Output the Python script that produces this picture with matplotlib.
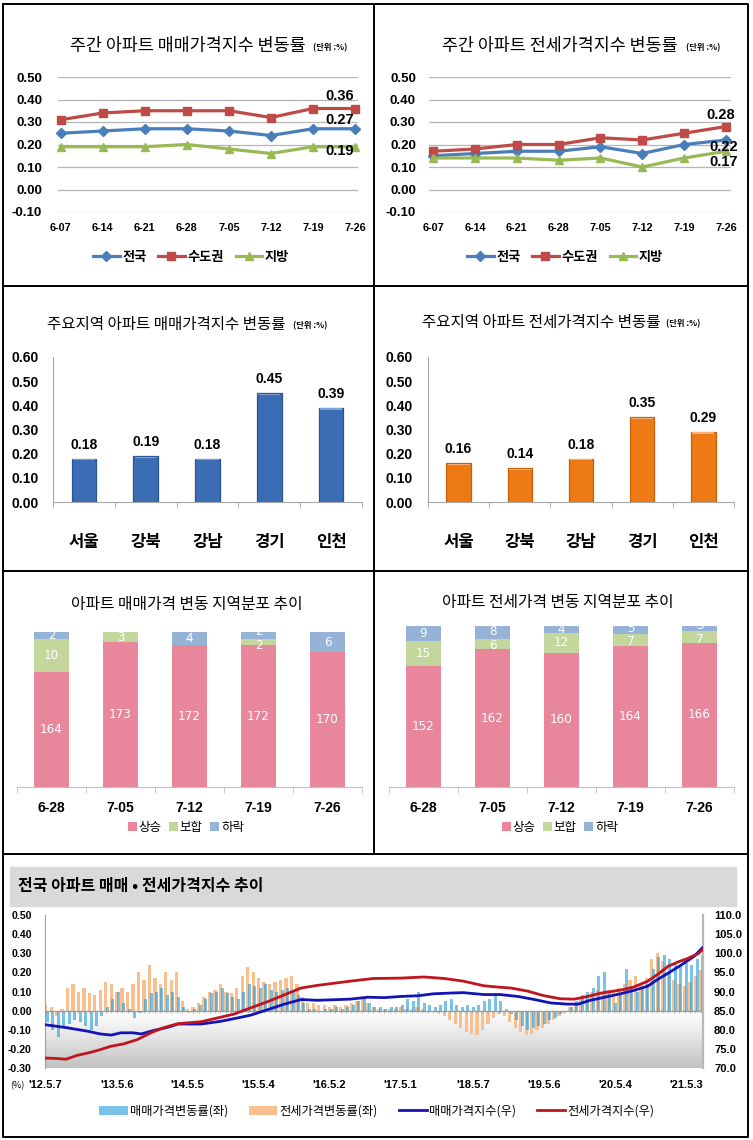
import numpy as np
import matplotlib
matplotlib.use('Agg')
import matplotlib.pyplot as plt
from matplotlib.colors import LinearSegmentedColormap
from matplotlib.patches import Rectangle

# ---------------- data ----------------
week_labels = ['6-07', '6-14', '6-21', '6-28', '7-05', '7-12', '7-19', '7-26']
line_names = ['전국', '수도권', '지방']
sale_nat = [0.25, 0.26, 0.27, 0.27, 0.26, 0.24, 0.27, 0.27]
sale_cap = [0.31, 0.34, 0.35, 0.35, 0.35, 0.32, 0.36, 0.36]
sale_reg = [0.19, 0.19, 0.19, 0.20, 0.18, 0.16, 0.19, 0.19]
jeon_nat = [0.15, 0.16, 0.17, 0.17, 0.19, 0.16, 0.20, 0.22]
jeon_cap = [0.17, 0.18, 0.20, 0.20, 0.23, 0.22, 0.25, 0.28]
jeon_reg = [0.14, 0.14, 0.14, 0.13, 0.14, 0.10, 0.14, 0.17]

regions = ['서울', '강북', '강남', '경기', '인천']
region_sale = [0.18, 0.19, 0.18, 0.45, 0.39]
region_jeon = [0.16, 0.14, 0.18, 0.35, 0.29]

dist_weeks = ['6-28', '7-05', '7-12', '7-19', '7-26']
dist_names = ['상승', '보합', '하락']
sale_up = [164, 173, 172, 172, 170]
sale_flat = [10, 3, 0, 2, 0]
sale_down = [2, 0, 4, 2, 6]
jeon_up = [152, 162, 160, 164, 166]
jeon_flat = [15, 6, 12, 7, 7]
jeon_down = [9, 8, 4, 5, 3]

# long-run chart (weeks since 2012-05-07)
long_tick_weeks = [0, 52, 104, 156, 208, 260, 313, 365, 417, 469]
long_tick_labels = ["'12.5.7", "'13.5.6", "'14.5.5", "'15.5.4", "'16.5.2",
                    "'17.5.1", "'18.5.7", "'19.5.6", "'20.5.4", "'21.5.3"]
rate_step_weeks = 4
sale_rate = [-0.06, -0.10, -0.14, -0.09, -0.07, -0.05, -0.06, -0.08, -0.10, -0.08, -0.03,
             0.02, 0.06, 0.10, 0.04, 0.01, -0.04, -0.01, 0.06, 0.09, 0.10,
             0.12, 0.08, 0.10, 0.07, 0.02, 0.00, 0.01, 0.03, 0.06, 0.09,
             0.10, 0.12, 0.09, 0.07, 0.06, 0.10, 0.14, 0.13, 0.12, 0.14,
             0.11, 0.10, 0.11, 0.12, 0.11, 0.08, 0.04, 0.01, 0.01, 0.00,
             0.01, 0.01, 0.02, 0.01, 0.02, 0.03, 0.05, 0.07, 0.04, 0.02,
             0.02, 0.01, 0.02, 0.02, 0.03, 0.06, 0.05, 0.10, 0.04, 0.03,
             0.02, 0.03, 0.05, 0.06, 0.03, 0.02, 0.03, 0.02, 0.03, 0.05,
             0.06, 0.09, 0.05, 0.01, -0.02, -0.05, -0.08, -0.10, -0.09, -0.08,
             -0.07, -0.05, -0.04, -0.02, 0.00, 0.02, 0.05, 0.08, 0.10, 0.12,
             0.18, 0.20, 0.09, 0.04, 0.08, 0.22, 0.13, 0.10, 0.12, 0.14,
             0.22, 0.28, 0.29, 0.27, 0.25, 0.24, 0.25, 0.24, 0.27, 0.29]
jeon_rate = [0.03, 0.02, -0.03, 0.01, 0.12, 0.14, 0.10, 0.12, 0.09, 0.08, 0.11,
             0.15, 0.14, 0.10, 0.12, 0.10, 0.14, 0.20, 0.16, 0.24, 0.17,
             0.14, 0.20, 0.16, 0.20, 0.05, 0.01, 0.02, 0.04, 0.07, 0.10,
             0.11, 0.14, 0.10, 0.09, 0.12, 0.18, 0.23, 0.20, 0.17, 0.15,
             0.14, 0.15, 0.16, 0.17, 0.18, 0.14, 0.07, 0.04, 0.04, 0.03,
             0.03, 0.02, 0.03, 0.02, 0.03, 0.04, 0.05, 0.06, 0.04, 0.02,
             0.01, 0.01, 0.01, 0.01, 0.02, 0.01, 0.01, 0.02, 0.01, 0.00,
             0.00, -0.01, -0.03, -0.05, -0.07, -0.09, -0.11, -0.12, -0.13, -0.10,
             -0.07, -0.04, -0.02, -0.03, -0.06, -0.09, -0.11, -0.13, -0.12, -0.10,
             -0.09, -0.07, -0.05, -0.03, -0.01, 0.02, 0.04, 0.06, 0.08, 0.10,
             0.11, 0.10, 0.11, 0.10, 0.12, 0.14, 0.16, 0.18, 0.14, 0.17,
             0.27, 0.30, 0.26, 0.20, 0.16, 0.14, 0.13, 0.15, 0.18, 0.21]
sale_idx_weeks = [0, 16, 31, 40, 48, 55, 64, 70, 79, 89, 97, 114, 128, 138, 150, 163, 174, 187,
                  199, 223, 236, 248, 260, 273, 284, 297, 306, 321, 333, 346, 358, 370, 382,
                  390, 399, 412, 421, 431, 441, 448, 456, 465, 475, 481]
sale_index = [81.3, 80.5, 79.6, 78.9, 78.6, 79.2, 79.2, 78.9, 79.8, 80.6, 81.5, 81.5, 82.2,
              82.9, 83.8, 85.3, 86.6, 87.9, 87.7, 88.0, 88.5, 88.4, 88.7, 88.9, 89.4, 89.6,
              89.7, 89.2, 89.2, 88.7, 87.9, 87.0, 86.7, 86.7, 87.7, 88.7, 89.4, 90.3, 91.4,
              93.1, 94.8, 96.8, 99.2, 101.4]
jeon_idx_weeks = [0, 7, 15, 23, 33, 40, 48, 57, 67, 77, 86, 97, 104, 114, 126, 138, 150, 163,
                  174, 187, 199, 223, 240, 260, 277, 292, 306, 321, 333, 341, 353, 365, 377,
                  387, 397, 407, 416, 423, 431, 441, 448, 456, 463, 470, 478, 481]
jeon_index = [72.6, 72.5, 72.3, 73.3, 74.1, 74.8, 75.7, 76.3, 77.4, 79.2, 80.5, 81.6, 81.8,
              82.1, 83.1, 84.1, 85.7, 87.4, 89.0, 90.9, 91.6, 92.7, 93.4, 93.5, 93.8, 93.4,
              92.7, 91.5, 91.1, 90.9, 90.1, 88.9, 88.1, 88.0, 88.7, 89.6, 90.1, 90.5, 91.2,
              92.7, 94.4, 96.6, 97.7, 98.6, 99.9, 100.9]
long_names = ['매매가격변동률(좌)', '전세가격변동률(좌)', '매매가격지수(우)', '전세가격지수(우)']

# ---------------- style ----------------
plt.rcParams['font.family'] = ['Noto Sans CJK KR', 'DejaVu Sans']
plt.rcParams['axes.unicode_minus'] = False
NUM = ['Liberation Sans', 'Noto Sans CJK KR']
LINE_COLORS = ['#4a7ebb', '#be4b48', '#98b954']
LINE_MARKERS = ['D', 's', '^']
LINE_MS = [4.8, 5.8, 6.3]

W, H = 753, 1140
fig = plt.figure(figsize=(W / 100, H / 100), dpi=100)
fig.patch.set_facecolor('white')
bg = fig.add_axes([0, 0, 1, 1])
bg.set_xlim(0, W)
bg.set_ylim(H, 0)
bg.axis('off')


def px_axes(x0, y0, x1, y1):
    return fig.add_axes([x0 / W, 1 - y1 / H, (x1 - x0) / W, (y1 - y0) / H])


def fxy(x, y):
    return (x / W, 1 - y / H)


# panel borders
bk = dict(color='black', lw=1.4, solid_capstyle='projecting')
bg.plot([3, 748, 748, 3, 3], [4, 4, 1137, 1137, 4], **bk)
bg.plot([374.5, 374.5], [4, 854], **bk)
for yy in (286, 571, 854):
    bg.plot([3, 748], [yy, yy], **bk)


def title(x, y, text, unit_x=None, size=12.5):
    bg.text(x, y, text, fontsize=size, fontweight='medium', ha='center', va='center')
    if unit_x is not None:
        bg.text(unit_x, y + 2, '(단위 :%)', fontsize=6, fontweight='bold',
                ha='left', va='center')


# ---------------- line panels ----------------
def line_panel(box, xlim, series, ypad, notes, legend_x):
    ax = px_axes(*box)
    x = np.arange(len(week_labels))
    for vals, name, c, m, ms in zip(series, line_names, LINE_COLORS, LINE_MARKERS, LINE_MS):
        ax.plot(x, vals, color=c, lw=2.3, marker=m, ms=ms, label=name, clip_on=False, zorder=3)
    ax.set_xlim(*xlim)
    ax.set_ylim(-0.1, 0.5)
    yt = [-0.1, 0.0, 0.1, 0.2, 0.3, 0.4, 0.5]
    ax.set_yticks(yt, [f'{v:.2f}' for v in yt], fontsize=9.5, fontweight='bold', fontfamily=NUM)
    ax.set_xticks(x, week_labels, fontsize=7.8, fontweight='bold', fontfamily=NUM)
    ax.tick_params(axis='y', length=0, pad=ypad)
    ax.tick_params(axis='x', length=0, pad=8)
    ax.yaxis.grid(True, color='#b5b5b5', lw=0.9)
    ax.set_axisbelow(True)
    for s in ax.spines.values():
        s.set_visible(False)
    for idx, dx, dy in notes:
        v = series[idx][-1]
        ax.annotate(f'{v:.2f}', xy=(x[-1], v), xytext=(dx, dy), textcoords='offset points',
                    ha='center', va='center', fontsize=10.5, fontweight='bold', fontfamily=NUM)
    ax.legend(loc='center', bbox_to_anchor=fxy(legend_x, 257), bbox_transform=fig.transFigure,
              ncol=3, frameon=False, prop={'size': 9.5, 'weight': 'bold'},
              handlelength=2.0, handletextpad=0.2, columnspacing=0.9)
    return ax


title(188, 46, '주간 아파트 매매가격지수 변동률', unit_x=313)
line_panel((58, 77, 358, 212), (-0.065, 7.07), [sale_nat, sale_cap, sale_reg], 11.5,
           [(1, -11, 9), (0, -11, 6), (2, -11, -3)], 191)
title(560, 46, '주간 아파트 전세가격지수 변동률', unit_x=686)
line_panel((429, 77, 731, 212), (-0.1, 7.12), [jeon_nat, jeon_cap, jeon_reg], 9.4,
           [(1, -4, 8), (0, -2, -5), (2, -2, -8)], 565)


# ---------------- bar panels ----------------
def bar_panel(box, vals, color, edge, light, ypad):
    ax = px_axes(*box)
    x = np.arange(len(regions))
    bars = ax.bar(x, vals, width=0.4, color=color, edgecolor=edge, lw=0.9, zorder=2)
    # soft top highlight of the bevelled bars
    ax.bar(x, [0.006] * len(vals), bottom=np.subtract(vals, 0.008), width=0.36,
           color=light, lw=0, zorder=3)
    ax.set_xlim(-0.5, len(regions) - 0.5)
    ax.set_ylim(0, 0.6)
    yt = [0.0, 0.1, 0.2, 0.3, 0.4, 0.5, 0.6]
    ax.set_yticks(yt, [f'{v:.2f}' for v in yt], fontsize=10, fontweight='bold', fontfamily=NUM)
    ax.set_xticks(x, regions, fontsize=12, fontweight='bold')
    ax.set_xticks(np.arange(len(regions) + 1) - 0.5, minor=True)
    ax.tick_params(axis='y', length=0, pad=ypad)
    ax.tick_params(axis='x', which='major', length=0, pad=22)
    ax.tick_params(axis='x', which='minor', length=4, color='#a6a6a6')
    for s in ('top', 'right'):
        ax.spines[s].set_visible(False)
    for s in ('left', 'bottom'):
        ax.spines[s].set_color('#a6a6a6')
    ax.bar_label(bars, labels=[f'{v:.2f}' for v in vals], padding=5, fontsize=10,
                 fontweight='bold', fontfamily=NUM)
    return ax


title(166, 324, '주요지역 아파트 매매가격지수 변동률', unit_x=293, size=11.2)
bar_panel((53, 357, 362, 502), region_sale, '#3b6db5', '#2a5590', '#7ea3d8', 10)
title(541, 322, '주요지역 아파트 전세가격지수 변동률', unit_x=666, size=11.2)
bar_panel((428, 357, 734, 502), region_jeon, '#ee7a16', '#c8600a', '#f7b077', 10.8)


# ---------------- stacked panels ----------------
DIST_COLORS = ['#e8869c', '#c3d69b', '#95b3d7']
LABEL_GAP_PX = 13.5


def stack_panel(box, up, flat, down, ymin, legend_x):
    ax = px_axes(*box)
    x = np.arange(len(dist_weeks))
    mid = np.add(up, flat)
    top = np.add(mid, down)
    b1 = ax.bar(x, up, 0.5, color=DIST_COLORS[0], zorder=2)
    b2 = ax.bar(x, flat, 0.5, bottom=up, color=DIST_COLORS[1], zorder=2)
    b3 = ax.bar(x, down, 0.5, bottom=mid, color=DIST_COLORS[2], zorder=2)
    ymax = max(top)
    ax.set_xlim(-0.5, len(dist_weeks) - 0.5)
    ax.set_ylim(ymin, ymax)
    ppu = (box[3] - box[1]) / (ymax - ymin)   # pixels per count
    tk = dict(color='white', fontsize=9.5, ha='center', va='center', zorder=4,
              fontfamily='DejaVu Sans', fontstretch='condensed', textcoords='offset points')
    for i in range(len(x)):
        ax.annotate(str(up[i]), (x[i], (ymin + up[i]) / 2), xytext=(0, 0), **tk)
        shift = 0.0
        if flat[i] and down[i]:
            sep = (flat[i] + down[i]) / 2 * ppu
            shift = max(0.0, LABEL_GAP_PX - sep) / 2 * 0.72
        if flat[i]:
            ax.annotate(str(flat[i]), (x[i], up[i] + flat[i] / 2), xytext=(0, -shift), **tk)
        if down[i]:
            ax.annotate(str(down[i]), (x[i], mid[i] + down[i] / 2), xytext=(0, shift), **tk)
    ax.set_yticks([])
    ax.set_xticks(x, dist_weeks, fontsize=10, fontweight='bold', fontfamily=NUM)
    ax.set_xticks(np.arange(len(dist_weeks) + 1) - 0.5, minor=True)
    ax.tick_params(axis='x', which='major', length=0, pad=10)
    ax.tick_params(axis='x', which='minor', length=4, color='#c0c0c0')
    for s in ('top', 'right', 'left'):
        ax.spines[s].set_visible(False)
    ax.spines['bottom'].set_color('#c0c0c0')
    ax.legend([b1, b2, b3], dist_names, loc='center', bbox_to_anchor=fxy(legend_x, 827),
              bbox_transform=fig.transFigure, ncol=3, frameon=False, fontsize=9,
              handlelength=0.7, handleheight=0.7, handletextpad=0.15, columnspacing=0.6)
    return ax


title(187, 605, '아파트 매매가격 변동 지역분포 추이', size=11.4)
stack_panel((17, 632, 362, 787), sale_up, sale_flat, sale_down, 130, 186)
title(558, 602, '아파트 전세가격 변동 지역분포 추이', size=11.4)
stack_panel((389, 626, 734, 787), jeon_up, jeon_flat, jeon_down, 80, 560)

# ---------------- long-run chart ----------------
bg.add_patch(Rectangle((10, 867), 726, 39, color='#d9d9d9', zorder=0))
bg.text(18, 886.5, '전국 아파트 매매 • 전세가격지수 추이', fontsize=11.5, fontweight='bold',
        ha='left', va='center')
bg.text(17, 1086, '(%)', fontsize=6.5, ha='center', va='center')

ax7 = px_axes(45, 915, 703, 1068)
n_weeks = max(sale_idx_weeks[-1], jeon_idx_weeks[-1])
rate_weeks = np.arange(len(sale_rate)) * rate_step_weeks
grad = np.linspace(0, 1, 256).reshape(-1, 1)
cmap = LinearSegmentedColormap.from_list('g', ['#ffffff', '#c2c2c2'])
ax7.imshow(grad, extent=[-0.5, n_weeks + 0.5, -0.3, -0.014], aspect='auto', cmap=cmap,
           origin='upper', zorder=0)
bj = ax7.bar(rate_weeks, jeon_rate, width=2.4, color='#f9bf8f', zorder=2, label=long_names[1])
bs = ax7.bar(rate_weeks + 1.2, sale_rate, width=2.2, color='#1f9bd7', alpha=0.6, zorder=3,
             label=long_names[0])
ax7.axhline(0, color='#9a9a9a', lw=1.0, zorder=4)
ax7.vlines(rate_weeks, -0.014, 0, color='#a0a0a0', lw=0.5, zorder=4)
ax7.set_xlim(-0.5, n_weeks + 0.5)
ax7.set_ylim(-0.3, 0.5)
yl = [-0.3, -0.2, -0.1, 0.0, 0.1, 0.2, 0.3, 0.4, 0.5]
ax7.set_yticks(yl, [f'{v:.2f}' for v in yl], fontsize=7.6, fontweight='bold', fontfamily=NUM)
ax7.set_xticks(long_tick_weeks, long_tick_labels, fontsize=8, fontweight='bold', fontfamily=NUM)
ax7.tick_params(axis='y', length=0, pad=9.4)
ax7.tick_params(axis='x', length=0, pad=9)
for s in ('top', 'bottom', 'right'):
    ax7.spines[s].set_visible(False)
ax7.spines['left'].set_color('#a0a0a0')

ax7r = ax7.twinx()
ls, = ax7r.plot(sale_idx_weeks, sale_index, color='#1414b4', lw=2.0, zorder=5, label=long_names[2])
lj, = ax7r.plot(jeon_idx_weeks, jeon_index, color='#c0141e', lw=2.0, zorder=6, label=long_names[3])
ax7r.set_ylim(70, 110)
yr = [70, 75, 80, 85, 90, 95, 100, 105, 110]
ax7r.set_yticks(yr, [f'{v:.1f}' for v in yr], fontsize=8, fontweight='bold', fontfamily=NUM)
ax7r.tick_params(axis='y', length=0, pad=8)
for s in ('top', 'bottom', 'left'):
    ax7r.spines[s].set_visible(False)
ax7r.spines['right'].set_color('#b8b8b8')
ax7r.spines['right'].set_linewidth(1.6)

fig.legend([bs, bj, ls, lj], long_names, loc='center', bbox_to_anchor=fxy(377, 1111),
           ncol=4, frameon=False, fontsize=8.8, handlelength=2.3, handleheight=0.75,
           handletextpad=0.2, columnspacing=1.7)

fig.savefig('out.png', dpi=100)
